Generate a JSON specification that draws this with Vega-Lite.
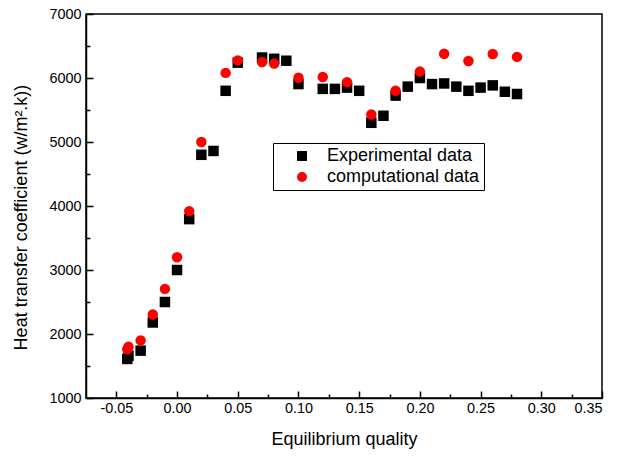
{
  "$schema": "https://vega.github.io/schema/vega-lite/v6.json",
  "width": 516,
  "height": 384,
  "autosize": "none",
  "padding": {"left": 86, "top": 14, "right": 17, "bottom": 59},
  "background": "white",
  "config": {
    "font": "Liberation Sans",
    "view": {"stroke": "black", "strokeWidth": 1.5},
    "axis": {
      "grid": false,
      "domainColor": "black",
      "domainWidth": 1.5,
      "tickColor": "black",
      "tickWidth": 1.5,
      "labelColor": "black",
      "titleColor": "black",
      "labelFontSize": 14.4,
      "titleFontSize": 18,
      "titleFontWeight": "normal"
    }
  },
  "data": {
    "values": [
      {"q": -0.041, "h": 1610, "series": "Experimental data"},
      {"q": -0.040, "h": 1660, "series": "Experimental data"},
      {"q": -0.03, "h": 1740, "series": "Experimental data"},
      {"q": -0.02, "h": 2180, "series": "Experimental data"},
      {"q": -0.01, "h": 2500, "series": "Experimental data"},
      {"q": 0.00, "h": 3000, "series": "Experimental data"},
      {"q": 0.01, "h": 3795, "series": "Experimental data"},
      {"q": 0.02, "h": 4800, "series": "Experimental data"},
      {"q": 0.03, "h": 4860, "series": "Experimental data"},
      {"q": 0.04, "h": 5800, "series": "Experimental data"},
      {"q": 0.05, "h": 6240, "series": "Experimental data"},
      {"q": 0.07, "h": 6320, "series": "Experimental data"},
      {"q": 0.08, "h": 6300, "series": "Experimental data"},
      {"q": 0.09, "h": 6270, "series": "Experimental data"},
      {"q": 0.10, "h": 5905, "series": "Experimental data"},
      {"q": 0.12, "h": 5830, "series": "Experimental data"},
      {"q": 0.13, "h": 5830, "series": "Experimental data"},
      {"q": 0.14, "h": 5850, "series": "Experimental data"},
      {"q": 0.15, "h": 5800, "series": "Experimental data"},
      {"q": 0.16, "h": 5300, "series": "Experimental data"},
      {"q": 0.17, "h": 5410, "series": "Experimental data"},
      {"q": 0.18, "h": 5725, "series": "Experimental data"},
      {"q": 0.19, "h": 5865, "series": "Experimental data"},
      {"q": 0.20, "h": 6000, "series": "Experimental data"},
      {"q": 0.21, "h": 5905, "series": "Experimental data"},
      {"q": 0.22, "h": 5915, "series": "Experimental data"},
      {"q": 0.23, "h": 5865, "series": "Experimental data"},
      {"q": 0.24, "h": 5800, "series": "Experimental data"},
      {"q": 0.25, "h": 5850, "series": "Experimental data"},
      {"q": 0.26, "h": 5885, "series": "Experimental data"},
      {"q": 0.27, "h": 5785, "series": "Experimental data"},
      {"q": 0.28, "h": 5750, "series": "Experimental data"},
      {"q": -0.041, "h": 1760, "series": "computational data"},
      {"q": -0.040, "h": 1800, "series": "computational data"},
      {"q": -0.03, "h": 1900, "series": "computational data"},
      {"q": -0.02, "h": 2305, "series": "computational data"},
      {"q": -0.01, "h": 2705, "series": "computational data"},
      {"q": 0.00, "h": 3200, "series": "computational data"},
      {"q": 0.01, "h": 3920, "series": "computational data"},
      {"q": 0.02, "h": 5000, "series": "computational data"},
      {"q": 0.04, "h": 6080, "series": "computational data"},
      {"q": 0.05, "h": 6275, "series": "computational data"},
      {"q": 0.07, "h": 6250, "series": "computational data"},
      {"q": 0.08, "h": 6225, "series": "computational data"},
      {"q": 0.10, "h": 6005, "series": "computational data"},
      {"q": 0.12, "h": 6015, "series": "computational data"},
      {"q": 0.14, "h": 5935, "series": "computational data"},
      {"q": 0.16, "h": 5430, "series": "computational data"},
      {"q": 0.18, "h": 5800, "series": "computational data"},
      {"q": 0.20, "h": 6100, "series": "computational data"},
      {"q": 0.22, "h": 6380, "series": "computational data"},
      {"q": 0.24, "h": 6265, "series": "computational data"},
      {"q": 0.26, "h": 6375, "series": "computational data"},
      {"q": 0.28, "h": 6330, "series": "computational data"}
    ]
  },
  "layer": [
    {
      "mark": {"type": "point", "opacity": 0},
      "encoding": {
        "x": {
          "field": "q", "type": "quantitative",
          "scale": {"domain": [-0.075, 0.35], "nice": false, "zero": false},
          "axis": {"orient": "bottom", "values": [-0.025, 0.025, 0.075, 0.125, 0.175, 0.225, 0.275, 0.325], "labels": false, "domain": false, "tickSize": -4, "title": null}
        },
        "y": {
          "field": "h", "type": "quantitative",
          "scale": {"domain": [1000, 7000], "nice": false, "zero": false},
          "axis": {"orient": "left", "values": [1500, 2500, 3500, 4500, 5500, 6500], "labels": false, "domain": false, "tickSize": -4, "title": null}
        }
      }
    },
    {
      "mark": {"type": "point", "filled": true, "opacity": 1, "size": 110},
      "encoding": {
        "x": {
          "field": "q", "type": "quantitative",
          "scale": {"domain": [-0.075, 0.35], "nice": false, "zero": false},
          "axis": {
            "orient": "bottom",
            "title": "Equilibrium quality",
            "values": [-0.05, 0, 0.05, 0.1, 0.15, 0.2, 0.25, 0.3, 0.35],
            "labelExpr": "datum.value < 0 ? '-' + format(-datum.value, '.2f') : format(datum.value, '.2f')",
            "tickSize": -7,
            "labelPadding": 10,
            "titlePadding": 16
          }
        },
        "y": {
          "field": "h", "type": "quantitative",
          "scale": {"domain": [1000, 7000], "nice": false, "zero": false},
          "axis": {
            "orient": "left",
            "title": "Heat transfer coefficient (w/m².k))",
            "titleY": 203,
            "values": [1000, 2000, 3000, 4000, 5000, 6000, 7000],
            "format": "d",
            "tickSize": -7,
            "labelPadding": 12,
            "titlePadding": 18
          }
        },
        "color": {
          "field": "series", "type": "nominal",
          "scale": {"domain": ["Experimental data", "computational data"], "range": ["#000000", "#ff0000"]},
          "legend": {
            "title": null,
            "orient": "none",
            "legendX": 187,
            "legendY": 129,
            "strokeColor": "black",
            "fillColor": "white",
            "padding": 4,
            "symbolOffset": 16,
            "labelOffset": 16,
            "labelFontSize": 18,
            "labelColor": "black",
            "symbolSize": 100,
            "rowPadding": 3
          }
        },
        "shape": {
          "field": "series", "type": "nominal",
          "scale": {"domain": ["Experimental data", "computational data"], "range": ["square", "circle"]}
        }
      }
    }
  ],
  "resolve": {"axis": {"x": "independent", "y": "independent"}}
}
